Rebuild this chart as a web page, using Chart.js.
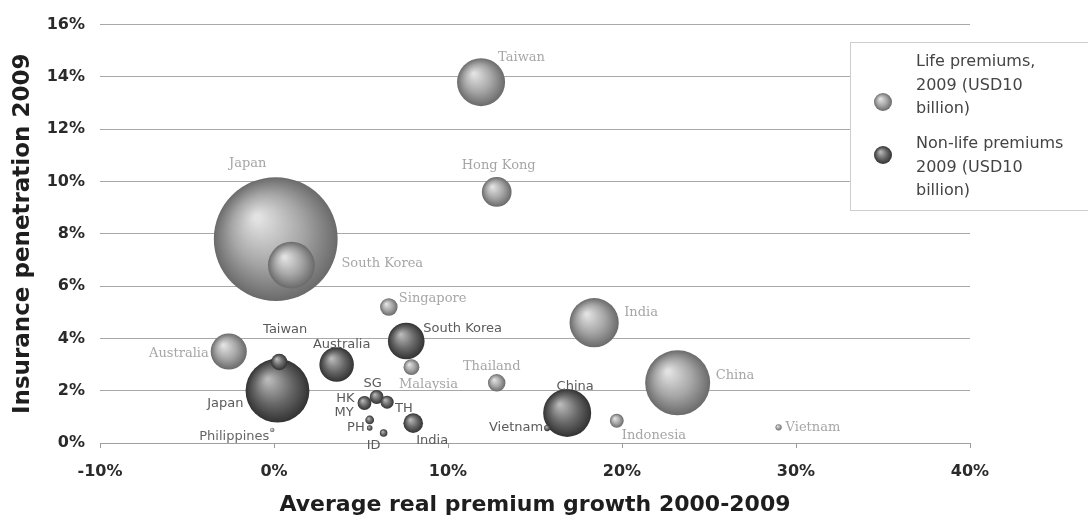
<!DOCTYPE html>
<html>
<head>
<meta charset="utf-8">
<script src="https://cdn.jsdelivr.net/npm/chart.js@4/dist/chart.umd.min.js"></script>
<style>
  html, body { margin: 0; padding: 0; background: #fff; }
  #wrap { width: 1088px; height: 521px; position: relative; }
</style>
</head>
<body>
<div id="wrap"><canvas id="bubbles"></canvas></div>
<script>
// Life premiums, 2009: growth 2000-2009 (%), penetration 2009 (%), premiums (USD10 billion)
const lifeCountries = ['Taiwan', 'Hong Kong', 'Japan', 'South Korea', 'Singapore', 'India', 'China',
  'Thailand', 'Malaysia', 'Indonesia', 'Vietnam', 'Australia', 'Philippines'];
const lifeGrowth = [11.9, 12.8, 0.1, 1.0, 6.6, 18.4, 23.2, 12.8, 7.9, 19.7, 29.0, -2.6, -0.1];
const lifePenetration = [13.8, 9.6, 7.8, 6.8, 5.2, 4.6, 2.3, 2.3, 2.9, 0.85, 0.6, 3.5, 0.5];
const lifePremiums = [6.0, 2.3, 39.9, 5.7, 0.8, 6.3, 11.0, 0.8, 0.65, 0.5, 0.1, 3.4, 0.05];

// Non-life premiums, 2009
const nonLifeCountries = ['Japan', 'Taiwan', 'Australia', 'South Korea', 'China', 'Vietnam', 'India',
  'HK', 'SG', 'TH', 'MY', 'PH', 'ID'];
const nonLifeGrowth = [0.2, 0.3, 3.6, 7.6, 16.85, 15.7, 8.0, 5.2, 5.9, 6.5, 5.5, 5.5, 6.3];
const nonLifePenetration = [2.0, 3.1, 3.0, 3.9, 1.15, 0.57, 0.76, 1.53, 1.76, 1.56, 0.88, 0.57, 0.38];
const nonLifePremiums = [10.6, 0.7, 3.1, 3.5, 6.0, 0.1, 1.0, 0.5, 0.5, 0.45, 0.2, 0.08, 0.15];

const xTicks = [-10, 0, 10, 20, 30, 40];
const yTicks = [0, 2, 4, 6, 8, 10, 12, 14, 16];

// bubble area proportional to premiums
const SIZE = 9.8;
function points(gx, py, prem) {
  return gx.map((x, i) => ({ x: x, y: py[i], r: SIZE * Math.sqrt(prem[i]) }));
}

// where each country name sits relative to its bubble
const lifeLabelPos = [
  [17, -25, 'left'], [2, -26, 'center'], [-28, -75, 'center'], [50, -2, 'left'],
  [10, -8, 'left'], [30, -10, 'left'], [38, -7, 'left'], [-5, -16, 'center'],
  [17, 17, 'center'], [5, 15, 'left'], [7, 0, 'left'], [-20, 2, 'right'], [-3, 7, 'right', true]
];
const nonLifeLabelPos = [
  [-34, 13, 'right'], [6, -32, 'center'], [5, -20, 'center'], [17, -12, 'left'],
  [8, -26, 'center'], [-4, 0, 'right'], [3, 17, 'left'], [-10, -4, 'right'],
  [-4, -13, 'center'], [8, 6, 'left'], [-16, -7, 'right'], [-5, 0, 'right'], [-10, 13, 'center']
];

const LIFE_TONES = ['#e2e2e2', '#a6a6a6', '#6a6a6a'];
const NONLIFE_TONES = ['#b8b8b8', '#696969', '#323232'];

function ballGradient(c, x, y, r, tones) {
  const g = c.createRadialGradient(x - r * 0.3, y - r * 0.35, r * 0.05, x, y, r);
  g.addColorStop(0, tones[0]);
  g.addColorStop(0.55, tones[1]);
  g.addColorStop(1, tones[2]);
  return g;
}

function sphere(tones) {
  return function (ctx) {
    const chart = ctx.chart;
    if (!chart.chartArea || ctx.type !== 'data') return tones[1];
    const raw = ctx.raw;
    const x = chart.scales.x.getPixelForValue(raw.x);
    const y = chart.scales.y.getPixelForValue(raw.y);
    return ballGradient(chart.ctx, x, y, Math.max(raw.r, 1), tones);
  };
}

const countryLabels = {
  id: 'countryLabels',
  afterDatasetsDraw(chart) {
    const c = chart.ctx;
    const sets = [
      { names: lifeCountries, pos: lifeLabelPos, font: '13px "DejaVu Serif"', color: '#a6a6a6' },
      { names: nonLifeCountries, pos: nonLifeLabelPos, font: '13px "DejaVu Sans"', color: '#5a5a5a' }
    ];
    c.save();
    c.textBaseline = 'middle';
    sets.forEach((s, di) => {
      const meta = chart.getDatasetMeta(di);
      meta.data.forEach((el, i) => {
        const p = s.pos[i];
        c.font = p[3] ? '13px "DejaVu Sans"' : s.font;
        c.fillStyle = p[3] ? '#666' : s.color;
        c.textAlign = p[2];
        c.fillText(s.names[i], el.x + p[0], el.y + p[1]);
      });
    });
    c.restore();
  }
};

const legendBox = {
  id: 'legendBox',
  afterDraw(chart) {
    const c = chart.ctx;
    c.save();
    c.fillStyle = '#fff';
    c.fillRect(850, 42, 250, 168);
    c.strokeStyle = '#9a9a9a';
    c.lineWidth = 1;
    c.setLineDash([1, 1]);
    c.strokeRect(850.5, 42.5, 250, 168);
    c.setLineDash([]);
    const items = [
      { y: 102, tones: LIFE_TONES, lines: ['Life premiums,', '2009 (USD10', 'billion)'], ty: 62 },
      { y: 155, tones: NONLIFE_TONES, lines: ['Non-life premiums', '2009 (USD10', 'billion)'], ty: 144 }
    ];
    items.forEach(it => {
      c.beginPath();
      c.arc(883, it.y, 9, 0, Math.PI * 2);
      c.fillStyle = ballGradient(c, 883, it.y, 9, it.tones);
      c.fill();
      c.font = '16px "DejaVu Sans"';
      c.fillStyle = '#444';
      c.textAlign = 'left';
      c.textBaseline = 'middle';
      it.lines.forEach((t, k) => c.fillText(t, 916, it.ty + k * 23.5));
    });
    c.restore();
  }
};

new Chart(document.getElementById('bubbles'), {
  type: 'bubble',
  data: {
    datasets: [
      {
        label: 'Life premiums, 2009 (USD10 billion)',
        data: points(lifeGrowth, lifePenetration, lifePremiums),
        backgroundColor: sphere(LIFE_TONES),
        borderWidth: 0
      },
      {
        label: 'Non-life premiums 2009 (USD10 billion)',
        data: points(nonLifeGrowth, nonLifePenetration, nonLifePremiums),
        backgroundColor: sphere(NONLIFE_TONES),
        borderWidth: 0
      }
    ]
  },
  options: {
    responsive: true,
    maintainAspectRatio: false,
    animation: false,
    layout: { autoPadding: false, padding: { left: 0, right: 118, top: 24, bottom: 0 } },
    plugins: { legend: { display: false }, tooltip: { enabled: false } },
    scales: {
      x: {
        type: 'linear',
        min: xTicks[0],
        max: xTicks[xTicks.length - 1],
        afterFit(scale) { scale.height = 78; },
        afterBuildTicks(scale) { scale.ticks = xTicks.map(v => ({ value: v })); },
        grid: { drawOnChartArea: false, drawTicks: true, tickLength: 5, color: '#9a9a9a' },
        border: { display: true, color: '#a0a0a0' },
        ticks: {
          padding: 14,
          color: '#2a2a2a',
          font: { family: 'DejaVu Sans', size: 16, weight: 'bold' },
          callback: v => v + '%'
        },
        title: {
          display: true,
          text: 'Average real premium growth 2000-2009',
          color: '#1e1e1e',
          font: { family: 'DejaVu Sans', size: 22, weight: 'bold' },
          padding: { top: 0, bottom: 3 }
        }
      },
      y: {
        min: yTicks[0],
        max: yTicks[yTicks.length - 1],
        afterFit(scale) { scale.width = 100; },
        afterBuildTicks(scale) { scale.ticks = yTicks.map(v => ({ value: v })); },
        grid: { drawTicks: false, color: '#a8a8a8' },
        border: { display: false },
        ticks: {
          padding: 15,
          color: '#2a2a2a',
          font: { family: 'DejaVu Sans', size: 16, weight: 'bold' },
          callback: v => v + '%'
        },
        title: {
          display: true,
          text: 'Insurance penetration 2009',
          color: '#1e1e1e',
          font: { family: 'DejaVu Sans', size: 23, weight: 'bold' },
          padding: { top: 9, bottom: 0 }
        }
      }
    }
  },
  plugins: [countryLabels, legendBox]
});
</script>
</body>
</html>
